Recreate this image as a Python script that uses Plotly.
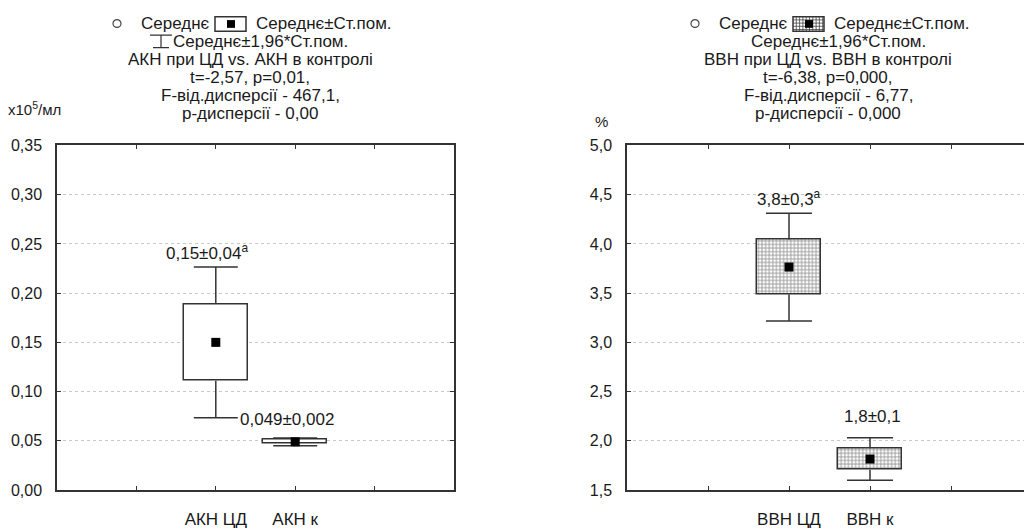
import plotly.graph_objects as go

# ---------------- data ----------------
akn_cats = ["АКН ЦД", "АКН к"]
akn_mean = [0.150, 0.049]
akn_se = [0.039, 0.002]
akn_labels = ["0,15±0,04<sup>а</sup>", "0,049±0,002"]

vvn_cats = ["ВВН ЦД", "ВВН к"]
vvn_mean = [3.765, 1.815]
vvn_se = [0.279, 0.110]
vvn_labels = ["3,8±0,3<sup>а</sup>", "1,8±0,1"]

left_title = ["АКН при ЦД vs. АКН в контролі", "t=-2,57, p=0,01,",
              "F-від.дисперсії - 467,1,", "p-дисперсії - 0,00"]
right_title = ["ВВН при ЦД vs. ВВН в контролі", "t=-6,38, p=0,000,",
               "F-від.дисперсії - 6,77,", "p-дисперсії - 0,000"]

W, H = 1024, 531
FONT = "Liberation Sans, Arial, sans-serif"
TXT = "#1a1a1a"
LINE = "#333333"
FS = 17


def px(x):
    return x / W


def py(y):
    return 1 - y / H


fig = go.Figure()


def add_panel(cats, means, ses, xa, ya, pattern, capw):
    xs = [i + 2 for i in range(len(cats))]
    fig.add_trace(go.Bar(
        x=xs, y=[2 * s for s in ses], base=[m - s for m, s in zip(means, ses)],
        width=0.8, xaxis=xa, yaxis=ya, showlegend=False, hoverinfo="skip",
        marker=dict(color="white", line=dict(color=LINE, width=1.5),
                    pattern=pattern),
    ))
    # whisker stems (box edge -> mean ± 1.96*SE)
    sx, sy = [], []
    for x, m, s in zip(xs, means, ses):
        sx += [x, x, None, x, x, None]
        sy += [m + s, m + 1.96 * s, None, m - s, m - 1.96 * s, None]
    fig.add_trace(go.Scatter(
        x=sx, y=sy, mode="lines", line=dict(color=LINE, width=1.5),
        xaxis=xa, yaxis=ya, showlegend=False, hoverinfo="skip",
    ))
    # whisker caps
    cy = [m + 1.96 * s for m, s in zip(means, ses)] + \
         [m - 1.96 * s for m, s in zip(means, ses)]
    fig.add_trace(go.Scatter(
        x=xs + xs, y=cy, mode="markers",
        marker=dict(size=1, color="rgba(0,0,0,0)"), xaxis=xa, yaxis=ya,
        showlegend=False, hoverinfo="skip",
        error_y=dict(type="data", array=[0] * len(cy), color=LINE,
                     thickness=1.5, width=capw),
    ))
    # means
    fig.add_trace(go.Scatter(
        x=xs, y=means, mode="markers", xaxis=xa, yaxis=ya, showlegend=False,
        marker=dict(symbol="square", size=9, color="black"),
    ))
    return xs


xs_l = add_panel(akn_cats, akn_mean, akn_se, "x", "y", None, 22)
xs_r = add_panel(vvn_cats, vvn_mean, vvn_se, "x2", "y2",
                 dict(shape="+", size=3.6, solidity=0.45, fgcolor="#333333",
                      bgcolor="white"), 23)

ytickfont = dict(family=FONT, size=16, color=TXT)
xtickfont = dict(family=FONT, size=FS, color=TXT)
common_y = dict(showline=True, linecolor=LINE, linewidth=1.5, ticks="inside",
                ticklen=4, tickcolor=LINE, showgrid=True, gridcolor="#c8c8c8",
                griddash="dot", gridwidth=1, zeroline=False, tickfont=ytickfont,
                ticklabelstandoff=10)
common_x = dict(showline=True, linecolor=LINE, linewidth=1.5, ticks="inside",
                ticklen=4, tickcolor=LINE, showgrid=False, zeroline=False,
                tickfont=xtickfont, ticklabelstandoff=13,
                minor=dict(tick0=0, dtick=1, ticks="inside", ticklen=4,
                           tickcolor=LINE, showgrid=False))

fig.update_layout(
    width=W, height=H, margin=dict(l=0, r=0, t=0, b=0),
    paper_bgcolor="white", plot_bgcolor="white", separators=",.",
    font=dict(family=FONT, size=FS, color=TXT),
    showlegend=False, bargap=0,
    xaxis=dict(domain=[px(57), px(454)], range=[0, 5], anchor="y",
               tickvals=xs_l, ticktext=akn_cats, mirror="ticks", **common_x),
    yaxis=dict(domain=[py(498), py(142)], range=[0, 0.35], anchor="x",
               dtick=0.05, tickformat=".2f", mirror="ticks", **common_y),
    xaxis2=dict(domain=[px(627), 1.0], range=[0, (W - 627) / 81], anchor="y2",
                tickvals=xs_r, ticktext=vvn_cats, mirror="ticks", **common_x),
    yaxis2=dict(domain=[py(498), py(142)], range=[1.5, 5.0], anchor="x2",
                dtick=0.5, tickformat=".1f", mirror=False, **common_y),
)

ann = []
shapes = []

# value labels
ann.append(dict(x=xs_l[0], y=akn_mean[0] + 1.96 * akn_se[0], xref="x", yref="y",
                text=akn_labels[0], showarrow=False, xshift=-8, yshift=2,
                yanchor="bottom"))
ann.append(dict(x=xs_l[1], y=akn_mean[1], xref="x", yref="y",
                text=akn_labels[1], showarrow=False, xanchor="left", xshift=-57,
                yshift=22))
ann.append(dict(x=xs_r[0], y=vvn_mean[0] + 1.96 * vvn_se[0], xref="x2", yref="y2",
                text=vvn_labels[0], showarrow=False, yshift=2,
                yanchor="bottom"))
ann.append(dict(x=xs_r[1], y=vvn_mean[1] + 1.96 * vvn_se[1], xref="x2", yref="y2",
                text=vvn_labels[1], showarrow=False, xshift=2, yshift=10,
                yanchor="bottom"))

# titles / legends
row_y = [16, 34.5, 53, 71.5, 90, 108.5]
for off, title, patterned, show_ibeam in [(0, left_title, False, True),
                                          (578, right_title, True, False)]:
    cx = 250 + off
    # line 1
    shapes.append(dict(type="circle", xref="paper", yref="paper",
                       x0=px(113 + off), x1=px(121 + off), y0=py(20), y1=py(12),
                       line=dict(color="#444444", width=1.2)))
    ann.append(dict(x=px(139 + off), y=py(row_y[0]), xref="paper", yref="paper",
                    text="Середнє", showarrow=False, xanchor="left",
                    yanchor="middle"))
    ix0, ix1, iy0, iy1 = 215 + off, 246 + off, 9, 24
    shapes.append(dict(type="rect", xref="paper", yref="paper",
                       x0=px(ix0), x1=px(ix1), y0=py(iy1), y1=py(iy0),
                       line=dict(color=LINE, width=1.5), fillcolor="white"))
    if patterned:
        path = ""
        g = ix0 + 3.3
        while g < ix1 - 0.5:
            path += f"M{px(g)},{py(iy0)} L{px(g)},{py(iy1)} "
            g += 3.3
        g = iy0 + 3.3
        while g < iy1 - 0.5:
            path += f"M{px(ix0)},{py(g)} L{px(ix1)},{py(g)} "
            g += 3.3
        shapes.append(dict(type="path", xref="paper", yref="paper", path=path,
                           line=dict(color="#444444", width=0.8)))
    shapes.append(dict(type="rect", xref="paper", yref="paper",
                       x0=px(227 + off), x1=px(235 + off), y0=py(20.5), y1=py(12.5),
                       line=dict(width=0), fillcolor="black"))
    ann.append(dict(x=px(254 + off), y=py(row_y[0]), xref="paper", yref="paper",
                    text="Середнє±Ст.пом.", showarrow=False, xanchor="left",
                    yanchor="middle"))
    # line 2
    if show_ibeam:
        shapes.append(dict(type="path", xref="paper", yref="paper",
                           path=(f"M{px(150)},{py(28)} L{px(172)},{py(28)} "
                                 f"M{px(161)},{py(28)} L{px(161)},{py(41)} "
                                 f"M{px(153)},{py(41)} L{px(169)},{py(41)}"),
                           line=dict(color=LINE, width=1.2)))
    ann.append(dict(x=px(171 + off), y=py(row_y[1]), xref="paper", yref="paper",
                    text="Середнє±1,96*Ст.пом.", showarrow=False, xanchor="left",
                    yanchor="middle"))
    for k, t in enumerate(title):
        ann.append(dict(x=px(cx), y=py(row_y[k + 2]), xref="paper", yref="paper",
                        text=t, showarrow=False, xanchor="center",
                        yanchor="middle"))

# unit labels
ann.append(dict(x=px(6), y=py(104), xref="paper", yref="paper",
                text="x10<sup>5</sup>/мл", showarrow=False, xanchor="left",
                yanchor="middle", font=dict(size=15)))
ann.append(dict(x=px(593), y=py(117), xref="paper", yref="paper",
                text="%", showarrow=False, xanchor="left", yanchor="middle",
                font=dict(size=15)))

fig.update_layout(annotations=ann, shapes=shapes)
fig.write_html("out.html")
